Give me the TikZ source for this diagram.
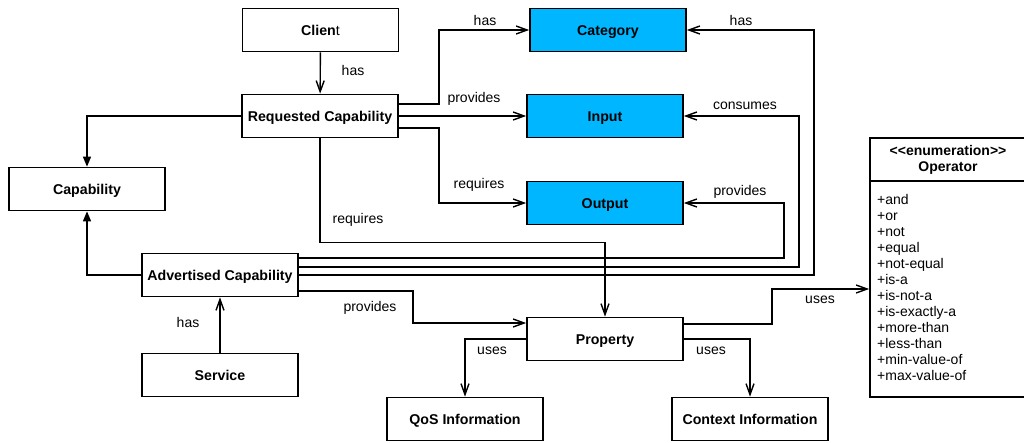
\documentclass[tikz,border=0pt]{standalone}
\usepackage{fontspec}
\setmainfont{Liberation Sans}
\usetikzlibrary{arrows.meta}
\definecolor{boxblue}{RGB}{0,183,255}
\begin{document}
\begin{tikzpicture}[x=1pt,y=-1pt,
  font=\fontsize{14}{16}\selectfont,
  cls/.style={draw, line width=1.7pt, minimum width=156pt, minimum height=43pt, inner sep=0pt, text height=10pt, text depth=0pt, font=\fontsize{14.2}{16}\selectfont\bfseries, fill=white},
  hl/.style={cls, fill=boxblue},
  conn/.style={line width=1.4pt},
  opn/.style={conn, -{Straight Barb[length=11pt,width=8pt]}},
  inh/.style={conn, -{Triangle[length=10pt,width=8pt]}},
  lbl/.style={inner sep=0pt}
]
\useasboundingbox (0,0) rectangle (1024,442);

% classes
\node[cls] (client) at (320.5,30) {Clien\textmd{t}};
\node[cls] (req) at (320,116) {Requested Capability};
\node[hl] (cat) at (608,30) {Category};
\node[hl] (input) at (605,116) {Input};
\node[hl] (output) at (605,203) {Output};
\node[cls] (cap) at (87,189) {Capability};
\node[cls] (adv) at (220,275) {Advertised Capability};
\node[cls] (serv) at (220,375) {Service};
\node[cls] (prop) at (605,339) {Property};
\node[cls] (qos) at (465,419) {QoS Information};
\node[cls] (ctx) at (750,419) {Context Information};

% enumeration
\node[draw, line width=1.7pt, minimum width=156pt, minimum height=259pt, inner sep=0pt] (op) at (948,267.5) {};
\draw[line width=1.7pt] (op.west |- 0,181) -- (op.east |- 0,181);
\node[align=center, inner sep=0pt, font=\fontsize{14}{16}\selectfont\bfseries] (ophead) at (948,160) {<\kern0pt<enumeration>\kern0pt>\\Operator};
\node[anchor=north west, align=left, inner sep=0pt] (oplist) at (877,194) {+and\\+or\\+not\\+equal\\+not-equal\\+is-a\\+is-not-a\\+is-exactly-a\\+more-than\\+less-than\\+min-value-of\\+max-value-of};

% connectors
\draw[opn] (client) -- (req);
\draw[inh] (req.west) -| (cap.north);
\draw[inh] (adv.west) -| (cap.south);
\draw[opn] ([yshift=12pt]req.east) -- ++(40,0) |- (cat.west);
\draw[opn] (req.east) -- (input.west);
\draw[opn] ([yshift=-12pt]req.east) -- ++(40,0) |- (output.west);
\draw[opn] (req.south) -- ++(0,104) -| (prop.north);
\draw[opn] (adv.east) -- ++(515,0) |- (cat.east);
\draw[opn] ([yshift=8pt]adv.east) -- ++(500,0) |- (input.east);
\draw[opn] ([yshift=17pt]adv.east) -- ++(485,0) |- (output.east);
\draw[opn] ([yshift=-16pt]adv.east) -- ++(114,0) |- ([yshift=16pt]prop.west);
\draw[opn] (serv.north) -- (adv.south);
\draw[opn] ([yshift=15pt]prop.east) -- ++(88,0) |- ([yshift=-21.5pt]op.west);
\draw[opn] (prop.west) -| (qos.north);
\draw[opn] (prop.east) -| (ctx.north);

% labels
\node[lbl] (l1) at (353,70) {has};
\node[lbl] (l2) at (485,20) {has};
\node[lbl] (l3) at (474,99) {provides};
\node[lbl] (l4) at (479,185) {requires};
\node[lbl] (l5) at (358,220) {requires};
\node[lbl] (l6) at (741,20) {has};
\node[lbl] (l7) at (745,106) {consumes};
\node[lbl] (l8) at (740,192) {provides};
\node[lbl] (l9) at (370,308) {provides};
\node[lbl] (l10) at (188,322) {has};
\node[lbl] (l11) at (820,300) {uses};
\node[lbl] (l12) at (492,351) {uses};
\node[lbl] (l13) at (711,351) {uses};
\end{tikzpicture}
\end{document}
